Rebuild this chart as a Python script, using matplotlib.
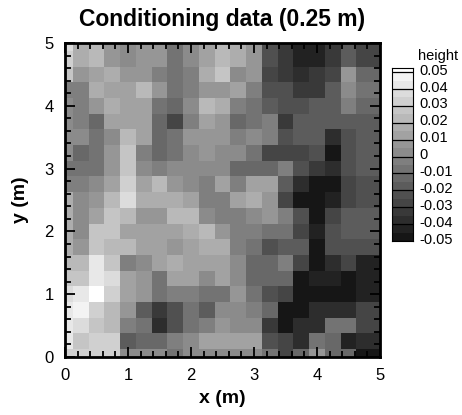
import numpy as np
import matplotlib
matplotlib.use("Agg")
import matplotlib.pyplot as plt
from matplotlib.colors import ListedColormap, BoundaryNorm
from matplotlib.ticker import MultipleLocator

plt.rcParams['font.family'] = ['Liberation Sans', 'DejaVu Sans']

# grid nodes every 0.25 m (x and y)
x_m = np.arange(21) * 0.25
y_m = np.arange(21) * 0.25

# height in mm, rows from y = 5 m (top) down to y = 0 m, columns x = 0 .. 5 m
height_mm = [
    [37, 17, 22, 7, 2, 7, 7, -8, 2, 12, 22, 17, 7, -23, -33, -43, -43, -33, -18, -28, -28],
    [32, 17, 22, 7, 2, 7, 7, -8, 2, 12, 22, 17, 7, -23, -33, -43, -43, -33, -18, -28, -28],
    [27, 7, 12, 17, 7, 7, -3, -8, -3, 17, 27, 2, 7, -28, -33, -38, -33, -28, 7, -13, -13],
    [-3, -3, 17, 12, 12, 22, 7, -8, -3, 7, 7, 12, -3, -23, -23, -33, -33, -18, 2, -8, -8],
    [2, -3, 7, 17, 12, 12, -8, -13, 2, 22, 17, -3, -8, -18, -23, -23, -18, -18, -3, -13, -13],
    [2, -3, -13, 12, 12, 12, -13, -28, -3, 12, 7, -13, -8, -3, -33, -18, -18, -18, -18, -18, -18],
    [2, 2, -8, 2, 22, 12, -13, -8, 7, 7, 7, -3, 2, -3, -23, -18, -18, -38, -23, -18, -18],
    [2, -13, -8, 7, 27, -3, -13, -8, 2, 7, 2, 2, -8, -28, -28, -28, -23, -48, -23, -18, -18],
    [-8, -8, -8, 7, 27, 2, -3, 2, 2, 2, 2, -13, -13, -13, -3, -23, -33, -38, -23, -18, -18],
    [-3, -3, 2, 12, 32, 12, 22, 7, 2, -3, 12, -3, 12, 12, -18, -38, -48, -48, -28, -23, -23],
    [17, 2, 7, 22, 37, 17, 17, 17, 12, -3, -3, 12, 17, 7, -28, -48, -48, -43, -28, -23, -23],
    [17, 2, 12, 27, 22, 7, 7, 22, 22, 2, -3, -3, 2, 7, -3, -23, -48, -28, -18, -18, -18],
    [17, 2, 27, 27, 12, 12, 12, 12, 17, 22, 7, -3, -3, -8, -8, -28, -43, -23, -18, -18, -18],
    [17, 7, 27, 22, 22, 12, 12, 7, 12, 17, 17, -3, -8, -23, -18, -18, -48, -23, -23, -23, -23],
    [22, 22, 42, 27, -3, 2, 12, 17, 12, 12, 12, 2, -13, -13, -3, -28, -48, -38, -28, -43, -43],
    [27, 27, 42, 37, 12, 7, -8, 12, 12, 2, 12, 2, -13, -13, -13, -48, -43, -43, -48, -43, -43],
    [37, 42, 52, 32, 12, 7, -8, -3, -3, -8, -8, 7, -8, -23, -28, -48, -48, -48, -48, -43, -43],
    [42, 47, 32, 22, 7, -18, -33, -23, -8, -18, 2, 2, -3, -13, -48, -48, -38, -38, -38, -28, -28],
    [42, 37, 27, 22, -3, -8, -38, -23, -8, -3, 7, 2, 2, -33, -48, -38, -38, -8, -8, -28, -28],
    [42, 27, 32, 32, -18, -13, -13, -3, 2, 12, 12, 12, 12, -23, -28, -38, -8, -13, -43, -38, -38],
    [32, 32, 32, 32, 2, 2, 2, -8, 2, 2, 2, 2, 2, -8, -28, -13, 7, -13, -13, -48, -48],
]

# legend levels (m) and labels
levels = np.arange(-0.05, 0.0551, 0.005)
label_levels = [0.05, 0.04, 0.03, 0.02, 0.01, 0, -0.01, -0.02, -0.03, -0.04, -0.05]
label_text = ['0.05', '0.04', '0.03', '0.02', '0.01', '0', '-0.01', '-0.02', '-0.03', '-0.04', '-0.05']

Z = np.array(height_mm[::-1]) / 1000.0

# flood colours: one grey per 0.005 band
n_band = len(levels) - 1
greys = [(22 + k * (255 - 22) / (n_band - 1)) / 255.0 for k in range(n_band)]
cmap = ListedColormap([(g, g, g) for g in greys])
norm = BoundaryNorm(levels, cmap.N)

fig = plt.figure(figsize=(4.62, 4.15), dpi=100)
ax = fig.add_axes([65 / 462, 1 - 357 / 415, 315 / 462, 314 / 415])
ax.pcolormesh(x_m, y_m, Z, cmap=cmap, norm=norm, shading='nearest')
ax.set_xlim(0, 5)
ax.set_ylim(0, 5)

ax.xaxis.set_major_locator(MultipleLocator(1))
ax.yaxis.set_major_locator(MultipleLocator(1))
ax.xaxis.set_minor_locator(MultipleLocator(0.2))
ax.yaxis.set_minor_locator(MultipleLocator(0.2))
ax.tick_params(which='both', direction='in', top=True, right=True, width=1.3, labelsize=12)
ax.tick_params(which='major', length=7)
ax.tick_params(axis='x', which='major', pad=8)
ax.tick_params(axis='y', which='major', pad=8)
ax.tick_params(which='minor', length=4)
for s in ax.spines.values():
    s.set_linewidth(2)

ax.set_xlabel('x (m)', fontsize=14, fontweight='bold', labelpad=5)
ax.set_ylabel('y (m)', fontsize=14, fontweight='bold', labelpad=11)
ax.set_title('Conditioning data (0.25 m)', fontsize=16.5, fontweight='bold', pad=12)

# legend box
cax = fig.add_axes([392 / 462, 1 - 241 / 415, 21 / 462, 173 / 415])
bar_top = 0.0524
edges = np.append(levels[:-1], bar_top)
mids = (levels[:-1] + levels[1:]) / 2
cax.pcolormesh([0, 1], edges, mids.reshape(-1, 1), cmap=cmap, norm=norm)
cax.set_xlim(0, 1)
cax.set_ylim(-0.05, bar_top)
for lv in label_levels:
    cax.axhline(lv, color='black', lw=0.9)
cax.set_xticks([])
cax.set_yticks([])
for s in cax.spines.values():
    s.set_linewidth(0.8)
for lv, txt in zip(label_levels, label_text):
    cax.text(1.3, lv + 0.0008, txt, transform=cax.get_yaxis_transform(), fontsize=10.5,
             va='center', ha='left')
fig.text(418 / 462, 1 - 56 / 415, 'height', fontsize=10.5, va='center', ha='left')

fig.savefig('out.png', dpi=100)
